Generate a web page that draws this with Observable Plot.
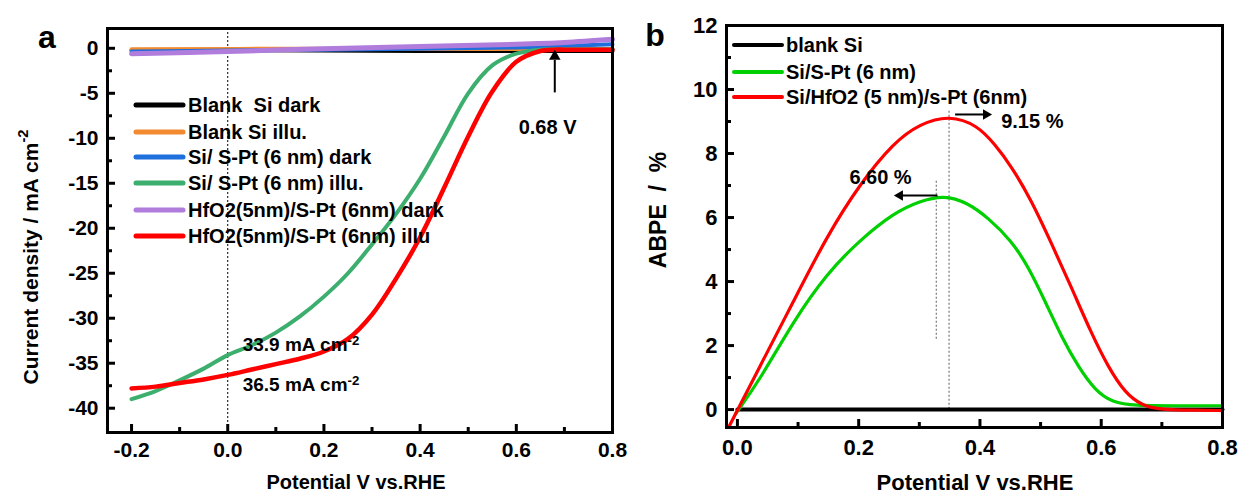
<!DOCTYPE html>
<html><head><meta charset="utf-8">
<script src="https://cdn.jsdelivr.net/npm/d3@7"></script>
<script src="https://cdn.jsdelivr.net/npm/@observablehq/plot@0.6"></script>
<style>
body{margin:0;background:#fff;}
#wrap{position:relative;width:1244px;height:494px;overflow:hidden;}
#wrap svg{position:absolute;top:0;}
</style></head><body><div id="wrap"></div>
<script>
// ---------------- DATA: panel a (J–V) ----------------
const aNames = ["Blank  Si dark","Blank Si illu.","Si/ S-Pt (6 nm) dark","Si/ S-Pt (6 nm) illu.","HfO2(5nm)/S-Pt (6nm) dark","HfO2(5nm)/S-Pt (6nm) illu"];
const aColors = ["#000000","#f28a30","#1f6fdc","#3cae6e","#b07ddc","#ff0000"];
const aBlackV = [-0.2, 0.2, 0.5, 0.8];
const aBlackJ = [-0.2, -0.25, -0.3, -0.3];
const aOrangeV = [-0.2, 0.2, 0.5, 0.8];
const aOrangeJ = [-0.1, -0.05, -0.08, -0.1];
const aBlueV = [-0.2, 0.0, 0.2, 0.4, 0.6, 0.7, 0.8];
const aBlueJ = [-0.35, -0.25, -0.15, -0.05, 0.1, 0.25, 0.45];
const aGreenV = [-0.2,-0.15,-0.1,-0.05,0,0.05,0.1,0.15,0.2,0.25,0.3,0.35,0.4,0.45,0.5,0.55,0.6,0.65,0.7,0.8];
const aGreenJ = [-39.0,-38.1,-36.9,-35.6,-34.1,-33.0,-31.6,-29.8,-27.6,-25.0,-21.8,-18.4,-14.5,-9.8,-5.0,-1.9,-0.6,-0.15,-0.1,-0.1];
const aPurpleV = [-0.2, 0.0, 0.2, 0.4, 0.6, 0.7, 0.8];
const aPurpleJ = [-0.6, -0.35, -0.05, 0.2, 0.45, 0.65, 1.0];
const aRedV = [-0.2,-0.15,-0.1,-0.05,0,0.05,0.1,0.15,0.2,0.25,0.3,0.35,0.4,0.45,0.5,0.55,0.6,0.65,0.68,0.7,0.8];
const aRedJ = [-37.8,-37.6,-37.2,-36.8,-36.3,-35.7,-35.1,-34.5,-33.7,-32.3,-29.6,-25.6,-21.0,-15.5,-9.8,-4.8,-1.5,-0.3,-0.15,-0.15,-0.15];
const aXTicks = [-0.2, 0.0, 0.2, 0.4, 0.6, 0.8];
const aXMinor = [-0.1, 0.1, 0.3, 0.5, 0.7];
const aYTicks = [0, -5, -10, -15, -20, -25, -30, -35, -40];
const aYMinor = [-2.5, -7.5, -12.5, -17.5, -22.5, -27.5, -32.5, -37.5];

// ---------------- DATA: panel b (ABPE) ----------------
const bNames = ["blank Si", "Si/S-Pt (6 nm)", "Si/HfO2 (5 nm)/s-Pt (6nm)"];
const bColors = ["#000000", "#00d000", "#ff0000"];
const bBlackV = [0.0, 0.8];
const bBlackE = [0.0, 0.0];
const bGreenV = [-0.003,0.036,0.093,0.147,0.202,0.258,0.301,0.341,0.379,0.413,0.452,0.48,0.507,0.535,0.563,0.59,0.618,0.656,0.72,0.8];
const bGreenE = [-0.13,0.9,2.78,4.24,5.3,6.15,6.52,6.7,6.47,6.0,5.28,4.45,3.4,2.25,1.31,0.6,0.22,0.12,0.12,0.12];
const bRedV = [-0.013,0.036,0.093,0.147,0.202,0.258,0.301,0.35,0.396,0.424,0.452,0.485,0.518,0.551,0.584,0.612,0.639,0.667,0.7,0.75,0.8];
const bRedE = [-0.5,1.31,3.4,5.4,7.05,8.35,8.93,9.2,8.88,8.3,7.6,6.53,5.19,3.81,2.37,1.31,0.53,0.12,0.0,-0.02,-0.03];
const bXTicks = [0.0, 0.2, 0.4, 0.6, 0.8];
const bXMinor = [0.1, 0.3, 0.5, 0.7];
const bYTicks = [0, 2, 4, 6, 8, 10, 12];
const bYMinor = [1, 3, 5, 7, 9, 11];

// annotation values
const aOnset = 0.68;
const aJ0green = 33.9, aJ0red = 36.5;
const bPeakRedV = 0.349, bPeakRed = 9.15;
const bPeakGreenV = 0.328, bPeakGreen = 6.60;

// ---------------- helpers ----------------
const FONT = '"Liberation Sans", Arial, Helvetica, sans-serif';
const W = 622, H = 494;
const toPts = (v, y) => v.map((d, i) => ({x: d, y: y[i]}));
const fmt1 = d => (d < 0 ? "-" : "") + Math.abs(d).toFixed(1);
const fmt0 = d => (d < 0 ? "-" : "") + Math.abs(d);

function frameTicks(xt, xm, yt, ym, pw, ph) {
  return [
    Plot.tickX(xt, {x: d => d, insetTop: ph - 8, strokeWidth: 3, stroke: "#000"}),
    Plot.tickX(xm, {x: d => d, insetTop: ph - 5, strokeWidth: 3, stroke: "#000"}),
    Plot.tickY(yt, {y: d => d, insetRight: pw - 8, strokeWidth: 3, stroke: "#000"}),
    Plot.tickY(ym, {y: d => d, insetRight: pw - 5, strokeWidth: 3, stroke: "#000"})
  ];
}
function supify(svg) {
  d3.select(svg).selectAll("text").each(function () {
    const t = this.textContent;
    if (t.includes("^")) {
      const [a, b] = t.split("^");
      const s = d3.select(this);
      s.text(a);
      s.append("tspan").attr("dy", "-0.45em").attr("font-size", "0.7em").text(b);
    }
  });
}
function addText(svg, x, y, txt, size, opts = {}) {
  const t = d3.select(svg).append("text")
    .attr("x", x).attr("y", y)
    .attr("font-family", FONT).attr("font-weight", "bold")
    .attr("font-size", size).attr("fill", "#000")
    .attr("text-anchor", opts.anchor || "middle")
    .attr("dominant-baseline", "central")
    .style("white-space", "pre");
  if (opts.rotate) t.attr("transform", `rotate(${opts.rotate},${x},${y})`);
  t.text(txt);
  return t;
}
function addLegend(svg, names, colors, x0, x1, tx, ys, size, sw) {
  const g = d3.select(svg).append("g");
  names.forEach((n, i) => {
    g.append("line").attr("x1", x0).attr("x2", x1).attr("y1", ys[i]).attr("y2", ys[i])
      .attr("stroke", colors[i]).attr("stroke-width", sw).attr("stroke-linecap", "round");
    g.append("text").attr("x", tx).attr("y", ys[i]).attr("dominant-baseline", "central")
      .attr("text-anchor", "start")
      .attr("font-family", FONT).attr("font-weight", "bold").attr("font-size", size)
      .style("white-space", "pre").text(n);
  });
}

const wrap = document.getElementById("wrap");

// ---------------- panel a ----------------
{
  const mL = 107, mR = 10, mT = 28, mB = 62;
  const pw = W - mL - mR, ph = H - mT - mB;
  // same order as aNames / aColors
  const aSeries = [
    [aBlackV, aBlackJ, 4], [aOrangeV, aOrangeJ, 4], [aBlueV, aBlueJ, 4],
    [aGreenV, aGreenJ, 4], [aPurpleV, aPurpleJ, 5], [aRedV, aRedJ, 4.5]
  ];
  const drawOrder = [0, 1, 2, 3, 5, 4];
  const svg = Plot.plot({
    width: W, height: H,
    marginLeft: mL, marginRight: mR, marginTop: mT, marginBottom: mB,
    x: {domain: [-0.25, 0.8]},
    y: {domain: [-42.7, 2.2]},
    style: {fontFamily: FONT, fontWeight: "bold", background: "transparent", overflow: "visible", color: "#000"},
    marks: [
      Plot.ruleX([0], {strokeDasharray: "2,2", strokeWidth: 1, stroke: "#000"}),
      ...drawOrder.map(k => {
        const s = aSeries[k];
        return Plot.line(toPts(s[0], s[1]), {x: "x", y: "y", stroke: aColors[k], strokeWidth: s[2], curve: "catmull-rom"});
      }),
      Plot.link([{x: aOnset, y1: -4.9, y2: -1.3}], {x1: "x", x2: "x", y1: "y1", y2: "y2", stroke: "#000", strokeWidth: 2}),
      Plot.dot([{x: aOnset, y: -0.9}], {x: "x", y: "y", symbol: "triangle2", r: 5.5, fill: "#000", stroke: "none"}),
      Plot.text([`${aOnset.toFixed(2)} V`], {x: 0.665, y: -8.8, fontSize: 20, fontWeight: "bold", fill: "#000"}),
      Plot.text([`${aJ0green} mA cm^-2`], {x: 0.031, y: -33.0, textAnchor: "start", fontSize: 19, fontWeight: "bold", fill: "#000"}),
      Plot.text([`${aJ0red} mA cm^-2`], {x: 0.031, y: -37.4, textAnchor: "start", fontSize: 19, fontWeight: "bold", fill: "#000"}),
      ...frameTicks(aXTicks, aXMinor, aYTicks, aYMinor, pw, ph),
      Plot.axisX({ticks: aXTicks, tickSize: 0, tickPadding: 10, tickFormat: fmt1, fontSize: 21, fontWeight: "bold", label: null}),
      Plot.axisY({ticks: aYTicks, tickSize: 0, tickPadding: 9, tickFormat: fmt0, fontSize: 21, fontWeight: "bold", label: null}),
      Plot.frame({stroke: "#000", strokeWidth: 3})
    ]
  });
  svg.style.left = "0px";
  wrap.appendChild(svg);
  supify(svg);
  addLegend(svg, aNames, aColors, 136, 183, 188, [105, 132, 157, 183, 210, 236], 20, 5);
  addText(svg, 356, 482, "Potential V vs.RHE", 20);
  const yt = addText(svg, 30, 257, "Current density / mA cm", 21, {rotate: -90});
  yt.append("tspan").attr("dy", "-0.45em").attr("font-size", "0.7em").text("-2");
  addText(svg, 47, 37, "a", 32);
}

// ---------------- panel b ----------------
{
  const mL = 104, mR = 22, mT = 25, mB = 67;
  const pw = W - mL - mR, ph = H - mT - mB;
  const svg = Plot.plot({
    width: W, height: H,
    marginLeft: mL, marginRight: mR, marginTop: mT, marginBottom: mB,
    x: {domain: [-0.018, 0.8]},
    y: {domain: [-0.56, 12]},
    style: {fontFamily: FONT, fontWeight: "bold", background: "transparent", overflow: "visible", color: "#000"},
    marks: [
      Plot.link([{x: bPeakRedV, y1: 9.34, y2: 0}], {x1: "x", x2: "x", y1: "y1", y2: "y2", stroke: "#777", strokeWidth: 1.2, strokeDasharray: "2,2"}),
      Plot.link([{x: bPeakGreenV, y1: 7.15, y2: 2.15}], {x1: "x", x2: "x", y1: "y1", y2: "y2", stroke: "#777", strokeWidth: 1.2, strokeDasharray: "2,2"}),
      Plot.line(toPts(bBlackV, bBlackE), {x: "x", y: "y", stroke: bColors[0], strokeWidth: 4}),
      Plot.line(toPts(bGreenV, bGreenE), {x: "x", y: "y", stroke: bColors[1], strokeWidth: 3.2, curve: "basis"}),
      Plot.line(toPts(bRedV, bRedE), {x: "x", y: "y", stroke: bColors[2], strokeWidth: 3.2, curve: "basis"}),
      Plot.link([{x1: 0.359, x2: 0.405, y: 9.22}], {x1: "x1", x2: "x2", y1: "y", y2: "y", stroke: "#000", strokeWidth: 2}),
      Plot.dot([{x: 0.41, y: 9.22}], {x: "x", y: "y", symbol: "triangle2", r: 5, rotate: 90, fill: "#000", stroke: "none"}),
      Plot.link([{x1: 0.33, x2: 0.27, y: 6.69}], {x1: "x1", x2: "x2", y1: "y", y2: "y", stroke: "#000", strokeWidth: 2}),
      Plot.dot([{x: 0.268, y: 6.69}], {x: "x", y: "y", symbol: "triangle2", r: 5, rotate: -90, fill: "#000", stroke: "none"}),
      Plot.text([`${bPeakRed.toFixed(2)} %`], {x: 0.435, y: 9.0, textAnchor: "start", fontSize: 20, fontWeight: "bold", fill: "#000"}),
      Plot.text([`${bPeakGreen.toFixed(2)} %`], {x: 0.236, y: 7.25, fontSize: 20, fontWeight: "bold", fill: "#000"}),
      ...frameTicks(bXTicks, bXMinor, bYTicks, bYMinor, pw, ph),
      Plot.axisX({ticks: bXTicks, tickSize: 0, tickPadding: 12, tickFormat: fmt1, fontSize: 22, fontWeight: "bold", label: null}),
      Plot.axisY({ticks: bYTicks, tickSize: 0, tickPadding: 9, tickFormat: fmt0, fontSize: 22, fontWeight: "bold", label: null}),
      Plot.frame({stroke: "#000", strokeWidth: 3})
    ]
  });
  svg.style.left = "622px";
  wrap.appendChild(svg);
  addLegend(svg, bNames, bColors, 112, 160, 164, [45, 72, 97], 20, 4);
  addText(svg, 353, 482, "Potential V vs.RHE", 22);
  addText(svg, 36, 210, "ABPE  /  %", 23, {rotate: -90});
  addText(svg, 33, 35, "b", 32);
}
</script>
</body></html>
